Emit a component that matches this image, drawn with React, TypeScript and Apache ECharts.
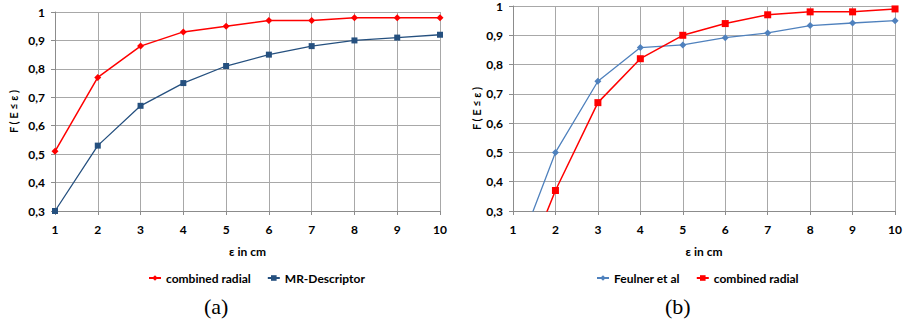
import React, { useEffect, useRef } from "react";
import * as echarts from "echarts";

const xCategories = ["1", "2", "3", "4", "5", "6", "7", "8", "9", "10"];
const yTickMin = 0.3;
const yTickMax = 1;

// Chart (a)
const aCombinedRadial = [0.51, 0.77, 0.88, 0.93, 0.95, 0.97, 0.97, 0.98, 0.98, 0.98];
const aMRDescriptor = [0.3, 0.53, 0.67, 0.75, 0.81, 0.85, 0.88, 0.9, 0.91, 0.92];

// Chart (b)
const bFeulner = [0.12, 0.5, 0.743, 0.858, 0.867, 0.892, 0.908, 0.933, 0.942, 0.95];
const bCombinedRadial = [0.01, 0.37, 0.67, 0.82, 0.9, 0.94, 0.97, 0.98, 0.98, 0.99];

const RED = "#ff0000";
const DARK_BLUE = "#25507f";
const LIGHT_BLUE = "#4f81bd";
const GRID = "#a8a8a8";
const FONT = "Lato";

const yFmt = (v: number) => (Math.abs(v - 1) < 1e-9 ? "1" : v.toFixed(1).replace(".", ","));

function makeX(gridIndex: number) {
  return {
    type: "category",
    gridIndex,
    data: xCategories,
    boundaryGap: false,
    name: "ε in cm",
    nameLocation: "middle",
    nameGap: 34,
    nameTextStyle: { fontFamily: FONT, fontWeight: "bold", fontSize: 12, color: "#000" },
    axisLine: { show: true, lineStyle: { color: "#8c8c8c", width: 1 } },
    axisTick: { show: true, length: 4, alignWithLabel: true, lineStyle: { color: "#8c8c8c" } },
    axisLabel: { margin: 12, fontFamily: FONT, fontWeight: "bold", fontSize: 12, color: "#000" },
    splitLine: { show: true, lineStyle: { color: GRID, width: 1 } },
  };
}

function makeY(gridIndex: number, nameGap: number) {
  return {
    type: "value",
    gridIndex,
    min: yTickMin,
    max: yTickMax,
    interval: 0.1,
    name: "F ( E ≤ ε )",
    nameLocation: "middle",
    nameRotate: 90,
    nameGap,
    nameTextStyle: { fontFamily: FONT, fontWeight: "bold", fontSize: 11, color: "#000" },
    axisLine: { show: true, lineStyle: { color: "#8c8c8c", width: 1 } },
    axisTick: { show: true, length: 4, lineStyle: { color: "#8c8c8c" } },
    axisLabel: {
      margin: 10,
      fontFamily: FONT,
      fontWeight: "bold",
      fontSize: 12,
      color: "#000",
      formatter: yFmt,
    },
    splitLine: { show: true, lineStyle: { color: GRID, width: 1 } },
  };
}

function lineSeries(name: string, data: number[], color: string, symbol: string, size: number, idx: number, width: number) {
  return {
    type: "line",
    name,
    data,
    xAxisIndex: idx,
    yAxisIndex: idx,
    clip: true,
    symbol,
    symbolSize: size,
    showAllSymbol: true,
    lineStyle: { color, width },
    itemStyle: { color, borderWidth: 0 },
  };
}

export default function App() {
  const ref = useRef<HTMLDivElement>(null);
  useEffect(() => {
    if (!ref.current) return;
    const chart = echarts.init(ref.current, null, { renderer: "svg" });
    const legendText = { fontFamily: FONT, fontWeight: "bold", fontSize: 12, color: "#000" };
    chart.setOption({
      animation: false,
      backgroundColor: "#fff",
      grid: [
        { left: 55, right: 465, top: 12, bottom: 112, containLabel: false },
        { left: 513, right: 6, top: 6, bottom: 112, containLabel: false },
      ],
      xAxis: [makeX(0), makeX(1)],
      yAxis: [makeY(0, 36), makeY(1, 31)],
      legend: [
        {
          left: 143,
          top: 267,
          itemWidth: 12,
          itemHeight: 7,
          itemGap: 16,
          textStyle: legendText,
          data: ["combined radial", "MR-Descriptor"],
        },
        {
          left: 591,
          top: 267,
          itemWidth: 12,
          itemHeight: 7,
          itemGap: 16,
          textStyle: legendText,
          data: ["Feulner et al", "combined radial (b)"],
          formatter: (n: string) => n.replace(" (b)", ""),
        },
      ],
      series: [
        lineSeries("combined radial", aCombinedRadial, RED, "diamond", 7, 0, 1.5),
        lineSeries("MR-Descriptor", aMRDescriptor, DARK_BLUE, "rect", 6, 0, 1.3),
        lineSeries("Feulner et al", bFeulner, LIGHT_BLUE, "diamond", 7, 1, 1.3),
        lineSeries("combined radial (b)", bCombinedRadial, RED, "rect", 7, 1, 1.5),
      ],
      graphic: [
        {
          type: "text",
          left: 204,
          top: 295,
          style: { text: "(a)", font: "22px 'Liberation Serif'", fill: "#000" },
        },
        {
          type: "text",
          left: 665,
          top: 295,
          style: { text: "(b)", font: "22px 'Liberation Serif'", fill: "#000" },
        },
      ],
    });
    return () => chart.dispose();
  }, []);
  return (
    <div
      ref={ref}
      style={{ position: "absolute", left: 0, top: 0, width: 905, height: 323, background: "#fff" }}
    />
  );
}
